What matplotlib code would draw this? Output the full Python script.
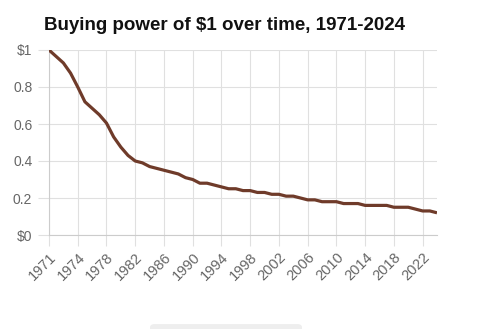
import matplotlib
matplotlib.use('Agg')
from matplotlib import pyplot as plt
from matplotlib.patches import FancyBboxPatch

# category labels (first label repeated, as in the source chart)
years = [1971] + list(range(1971, 2025))
values = [1.00, 0.965, 0.93, 0.875, 0.80, 0.72, 0.685, 0.65, 0.605, 0.53,
          0.475, 0.43, 0.40, 0.39, 0.37, 0.36, 0.35, 0.34, 0.33, 0.31,
          0.30, 0.28, 0.28, 0.27, 0.26, 0.25, 0.25, 0.24, 0.24, 0.23,
          0.23, 0.22, 0.22, 0.21, 0.21, 0.20, 0.19, 0.19, 0.18, 0.18,
          0.18, 0.17, 0.17, 0.17, 0.16, 0.16, 0.16, 0.16, 0.15, 0.15,
          0.15, 0.14, 0.13, 0.13, 0.12]
tick_every = 4
y_ticks = [0, 0.2, 0.4, 0.6, 0.8, 1.0]
y_labels = ['$0', '0.2', '0.4', '0.6', '0.8', '$1']

plt.rcParams['font.family'] = ['Liberation Sans', 'DejaVu Sans']

W, H = 478, 329
fig = plt.figure(figsize=(W / 100, H / 100), dpi=100)
ax = fig.add_axes([49 / W, 1 - 235 / H, (437 - 49) / W, (235 - 50) / H])

x = list(range(len(values)))
ax.plot(x, values, color='#6f3b2a', linewidth=2.3, solid_capstyle='butt',
        solid_joinstyle='round', zorder=3)

ax.set_xlim(0, len(values) - 1)
ax.set_ylim(0, 1)

xt = list(range(0, len(values), tick_every))
ax.set_xticks(xt)
ax.set_xticklabels([str(years[i]) for i in xt], rotation=45, ha='right',
                   rotation_mode='anchor', fontsize=10.5, color='#666666')
ax.set_yticks(y_ticks)
ax.set_yticklabels(y_labels, fontsize=10, color='#666666')

grid_c = '#e0e0e0'
ax.grid(True, color=grid_c, linewidth=0.8)
ax.tick_params(axis='x', length=8, width=0.8, color=grid_c, pad=3)
ax.tick_params(axis='y', length=8, width=0.8, color=grid_c, pad=4)
for side in ['top', 'right']:
    ax.spines[side].set_visible(False)
ax.spines['left'].set_color('#cccccc')
ax.spines['bottom'].set_color('#cccccc')

fig.text(44 / W, 1 - 26 / H, 'Buying power of $1 over time, 1971-2024',
         fontsize=13.5, fontweight='bold', color='#111111', va='center', ha='left')

# light rounded box at the bottom edge
fig.patches.append(FancyBboxPatch((150 / W, -0.02), 152 / W, 0.035,
                                  boxstyle='round,pad=0,rounding_size=0.01',
                                  transform=fig.transFigure, facecolor='#eeeeee',
                                  edgecolor='none'))

fig.savefig('out.png', dpi=100)
